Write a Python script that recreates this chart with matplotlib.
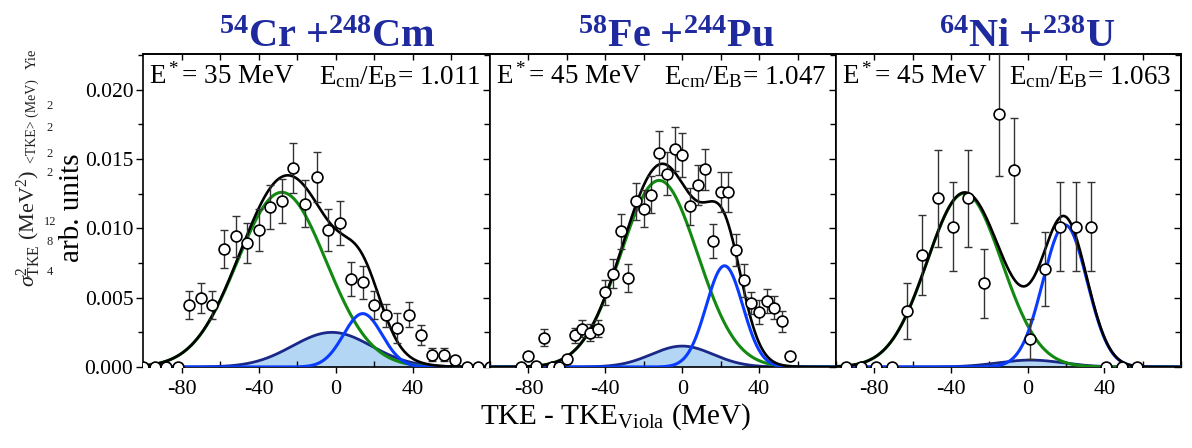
import numpy as np
import matplotlib
matplotlib.use('Agg')
import matplotlib.pyplot as plt
from matplotlib.ticker import MultipleLocator, FixedLocator, NullFormatter

plt.rcParams['font.family'] = ['Liberation Serif', 'DejaVu Serif']
plt.rcParams['mathtext.fontset'] = 'custom'
plt.rcParams['mathtext.rm'] = 'Liberation Serif'
plt.rcParams['mathtext.it'] = 'Liberation Serif:italic'
plt.rcParams['mathtext.bf'] = 'Liberation Serif:bold'
plt.rcParams['axes.unicode_minus'] = False

# ---------------- data ----------------
titles = [r'$^{\mathbf{54}}$Cr +$^{\mathbf{248}}$Cm',
          r'$^{\mathbf{58}}$Fe +$^{\mathbf{244}}$Pu',
          r'$^{\mathbf{64}}$Ni +$^{\mathbf{238}}$U']
estar_labels = [r'E$^*$= 35 MeV', r'E$^*$= 45 MeV', r'E$^*$= 45 MeV']
ratio_labels = [r'E$_{\mathrm{cm}}$/E$_{\mathrm{B}}$= 1.011',
                r'E$_{\mathrm{cm}}$/E$_{\mathrm{B}}$= 1.047',
                r'E$_{\mathrm{cm}}$/E$_{\mathrm{B}}$= 1.063']

cr_x = [-100, -94, -88, -82, -76, -70, -64, -58, -52, -46, -40, -34, -28, -22, -16,
        -10, -4, 2, 8, 14, 20, 26, 32, 38, 44, 50, 56, 62, 68, 74, 80]
cr_y = [0, 0, 0, 0, 0.00447, 0.00495, 0.00447, 0.00851, 0.00942, 0.00894, 0.0099,
        0.01154, 0.0120, 0.01435, 0.01178, 0.01368, 0.0099, 0.01039, 0.00635, 0.0061,
        0.00447, 0.00373, 0.00281, 0.00377, 0.00233, 0.00089, 0.00089, 0.00048, 0, 0, 0]
cr_err = [0, 0, 0, 0, 0.00101, 0.00108, 0.00101, 0.00139, 0.00149, 0.00144, 0.00151,
          0.00161, 0.00159, 0.00183, 0.00168, 0.0018, 0.00151, 0.00159, 0.00123, 0.0012,
          0.00101, 0.00084, 0.00106, 0.00089, 0.00072, 0.00048, 0.00048, 0.0002, 0, 0, 0]

fe_x = [-84, -80, -76, -72, -68, -64, -60, -56, -52, -48, -44, -40, -36, -32, -28, -24,
        -20, -16, -12, -8, -4, 0, 4, 8, 12, 16, 20, 24, 28, 32, 36, 40, 44, 48, 52, 56]
fe_y = [0, 0.00077, 0.0001, 0.00212, 0, 0, 0.0006, 0.00228, 0.00276, 0.00248, 0.00276,
        0.0054, 0.00673, 0.00978, 0.00642, 0.01195, 0.01142, 0.01243, 0.01543, 0.01394,
        0.01575, 0.01527, 0.01159, 0.0131, 0.01426, 0.00909, 0.01262, 0.01262, 0.00841,
        0.00625, 0.00462, 0.00397, 0.00476, 0.00428, 0.00329, 0.00077]
fe_err = [0, 0.0003, 0, 0.0006, 0, 0, 0.0002, 0.00053, 0.0006, 0.00063, 0.00063, 0.00091,
          0.00106, 0.00125, 0.00101, 0.00132, 0.00132, 0.00135, 0.00159, 0.00156, 0.00159,
          0.00159, 0.00135, 0.00144, 0.00149, 0.0012, 0.00144, 0.00144, 0.00115, 0.0012,
          0.00082, 0.00084, 0.00089, 0.00082, 0.00077, 0.0002]

ni_x = [-95, -87, -79, -71, -63, -55, -47, -39, -31, -23, -15, -7, 1, 9, 17, 25, 33, 41, 49, 57]
ni_y = [0, 0, 0, 0, 0.00404, 0.00808, 0.01216, 0.01012, 0.01216, 0.00603, 0.01825, 0.01418,
        0.002, 0.00707, 0.01012, 0.01012, 0.01012, 0, 0, 0]
ni_err = [0, 0, 0, 0, 0.00202, 0.00288, 0.00351, 0.00322, 0.00351, 0.0025, 0.0045, 0.0038,
          0.00144, 0.00269, 0.00322, 0.00322, 0.00322, 0, 0, 0]

# Gaussian fit components (amplitude, centre, sigma)
green_fit = [(0.0126, -28.0, 23.0), (0.01346, -12.0, 20.0), (0.01253, -33.0, 19.5)]
blue_fit = [(0.00385, 14.0, 10.0), (0.0073, 22.0, 9.5), (0.01025, 19.5, 11.5)]
navy_fit = [(0.0025, -2.0, 20.5), (0.00151, 0.0, 16.0), (0.0005, 1.5, 17.0)]

xs = [cr_x, fe_x, ni_x]
ys = [cr_y, fe_y, ni_y]
errs = [cr_err, fe_err, ni_err]

# ---------------- figure ----------------
W, H = 1192, 448
fig = plt.figure(figsize=(W / 100, H / 100), dpi=100)

edges = [143, 490, 836, 1181]
ax_top, ax_bot = 54, 367
title_cx = [327, 676, 1027]

C_GREEN = '#128a12'
C_BLUE = '#0a3cff'
C_NAVY = '#1a2888'
C_FILL = '#b4d6f5'
C_TITLE = '#1e2a9e'


def gauss(x, a, m, s):
    return a * np.exp(-(x - m) ** 2 / (2 * s ** 2))


xx = np.linspace(-100, 80, 721)

for i in range(3):
    l, r = edges[i], edges[i + 1]
    ax = fig.add_axes([l / W, 1 - ax_bot / H, (r - l) / W, (ax_bot - ax_top) / H])
    ax.set_xlim(-100, 80)
    ax.set_ylim(0, 0.02258)

    g = gauss(xx, *green_fit[i])
    b = gauss(xx, *blue_fit[i])
    n = gauss(xx, *navy_fit[i])
    ax.fill_between(xx, 0, n, color=C_FILL, zorder=1, lw=0)
    ax.plot(xx, n, color=C_NAVY, lw=2.0, zorder=2)
    ax.plot(xx, g, color=C_GREEN, lw=2.2, zorder=3)
    ax.plot(xx, b, color=C_BLUE, lw=2.2, zorder=3)
    ax.plot(xx, g + b + n, color='black', lw=1.9, zorder=4)

    x = np.array(xs[i], float)
    y = np.array(ys[i], float)
    e = np.array(errs[i], float)
    m = e > 0
    ax.errorbar(x[m], y[m], yerr=e[m], fmt='none', ecolor='#333333', elinewidth=1.0,
                capsize=2.8, capthick=1.0, zorder=5)
    ax.plot(x, y, 'o', ms=7.8, mfc='white', mec='black', mew=1.2, zorder=6)

    # ticks
    ax.xaxis.set_major_locator(FixedLocator([-80, -40, 0, 40]))
    ax.xaxis.set_minor_locator(FixedLocator([-100, -60, -20, 20, 60, 80]))
    ax.tick_params(axis='x', which='major', direction='out', length=4, width=1,
                   labelsize=16, pad=5)
    ax.tick_params(axis='x', which='minor', direction='in', length=4, width=1)
    ax.yaxis.set_major_locator(MultipleLocator(0.005))
    ax.yaxis.set_minor_locator(MultipleLocator(0.0025))
    if i == 0:
        ax.yaxis.set_major_formatter(plt.FuncFormatter(lambda v, p: f'{v:.3f}'))
        ax.tick_params(axis='y', which='major', direction='out', length=5, width=1,
                       labelsize=15.5, pad=2)
        ax.tick_params(axis='y', which='minor', direction='out', length=3.5, width=1)
    else:
        ax.tick_params(axis='y', which='both', left=False, labelleft=False)

    sy = ax.secondary_yaxis('right')
    sy.yaxis.set_major_locator(MultipleLocator(0.005))
    sy.yaxis.set_minor_locator(MultipleLocator(0.0025))
    sy.yaxis.set_major_formatter(NullFormatter())
    sy.tick_params(axis='y', which='major', direction='in', length=5, width=1)
    sy.tick_params(axis='y', which='minor', direction='in', length=4, width=1)
    sy.spines['right'].set_linewidth(1.2)

    sx = ax.secondary_xaxis('top')
    sx.xaxis.set_major_locator(FixedLocator([-80, -60, -40, -20, 0, 20, 40, 60]))
    sx.xaxis.set_major_formatter(NullFormatter())
    sx.tick_params(axis='x', which='major', direction='in', length=4.5, width=1)
    sx.spines['top'].set_linewidth(1.2)

    for sp in ax.spines.values():
        sp.set_linewidth(1.2)

    ax.text(0.018, 0.904, estar_labels[i], transform=ax.transAxes, fontsize=19.5,
            ha='left', va='baseline', zorder=7)
    ax.text(0.972, 0.904, ratio_labels[i], transform=ax.transAxes, fontsize=19.5,
            ha='right', va='baseline', zorder=7)

    fig.text(title_cx[i] / W, 1 - 47 / H, titles[i], fontsize=29, color=C_TITLE,
             fontweight='bold', ha='center', va='baseline')

# axis labels
fig.text(616 / W, 1 - 424 / H, r'TKE - TKE$_{\mathrm{Viola}}$ (MeV)', fontsize=21,
         ha='center', va='baseline')
fig.text(72 / W, 1 - 208 / H, 'arb. units', fontsize=21, rotation=90,
         ha='center', va='center')

# leftover fragments at the left edge of the original figure
fig.text(29 / W, 1 - 228 / H, r'$\sigma^2_{\mathrm{TKE}}$ (MeV$^2$)', fontsize=16,
         rotation=90, ha='center', va='center', color='#222222')
fig.text(32 / W, 1 - 121 / H, '<TKE> (MeV)', fontsize=10, rotation=90,
         ha='center', va='center', color='#222222')
fig.text(32 / W, 1 - 59 / H, 'Yie', fontsize=10.5, rotation=90,
         ha='center', va='center', color='#222222')
small_nums = ['2', '2', '2', '2', '12', '8', '4']
small_y = [106, 128, 154, 173, 222, 242, 272]
for s, yy in zip(small_nums, small_y):
    fig.text(50 / W, 1 - yy / H, s, fontsize=9, ha='center', va='center',
             color='#222222')

fig.savefig('out.png', dpi=100)
